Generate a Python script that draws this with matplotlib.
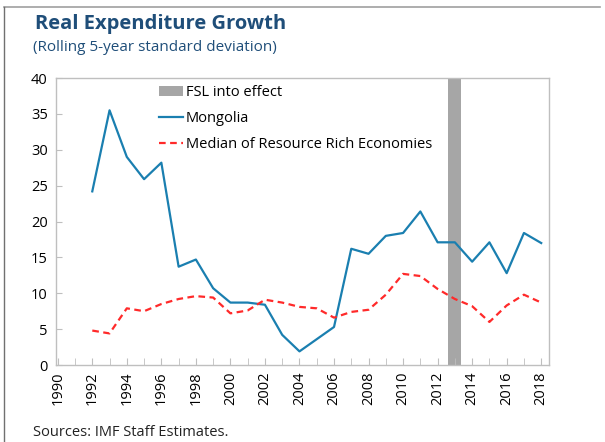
import matplotlib
matplotlib.use("Agg")
import matplotlib.pyplot as plt
from matplotlib.lines import Line2D
from matplotlib.patches import Patch

plt.rcParams['font.family'] = ['Open Sans', 'DejaVu Sans']

years = list(range(1992, 2019))
mongolia = [24.2, 35.5, 29.0, 25.9, 28.2, 13.7, 14.7, 10.7, 8.7, 8.7, 8.4, 4.2, 1.9, 3.6,
            5.3, 16.2, 15.5, 18.0, 18.4, 21.4, 17.1, 17.1, 14.4, 17.1, 12.8, 18.4, 17.0]
median_rre = [4.8, 4.4, 7.9, 7.5, 8.5, 9.2, 9.6, 9.4, 7.2, 7.6, 9.1, 8.7, 8.1, 7.9,
              6.6, 7.4, 7.7, 9.8, 12.7, 12.4, 10.6, 9.2, 8.2, 6.0, 8.3, 9.8, 8.7]
fsl_year = 2013
tick_years = list(range(1990, 2019))
label_years = list(range(1990, 2019, 2))

fig = plt.figure(figsize=(6.05, 4.42), dpi=100)
ax = fig.add_axes([0.0926, 0.1742, 0.8148, 0.6493])

blue = '#1a7fb0'
red = '#ff2a2a'

ax.axvspan(fsl_year - 0.38, fsl_year + 0.38, color='#a6a6a6', lw=0, zorder=1)
ax.plot(years, mongolia, color=blue, lw=1.6, zorder=3)
ax.plot(years, median_rre, color=red, lw=1.6, ls=(0, (3, 2)), zorder=3)

ax.set_xlim(1989.9, 2018.45)
ax.set_ylim(0, 40)
ax.set_yticks(range(0, 41, 5))
ax.set_xticks(tick_years, minor=True)
ax.set_xticks(label_years)
ax.set_xticklabels([str(y) for y in label_years], rotation=90)
ax.tick_params(axis='x', which='both', direction='in', length=5, color='#bfbfbf', labelsize=10.5, pad=5)
ax.tick_params(axis='y', direction='in', length=4, color='#bfbfbf', labelsize=10.5, pad=6)
for s in ax.spines.values():
    s.set_color('#bfbfbf')
    s.set_linewidth(1.0)

handles = [Patch(facecolor='#a6a6a6', edgecolor='none'),
           Line2D([0], [0], color=blue, lw=1.6),
           Line2D([0], [0], color=red, lw=1.6, ls=(0, (3, 2)))]
labels = ['FSL into effect', 'Mongolia', 'Median of Resource Rich Economies']
ax.legend(handles, labels, loc='upper left', bbox_to_anchor=(0.183, 1.022), frameon=False,
          fontsize=10.5, handlelength=1.65, handletextpad=0.15, labelspacing=0.75)

fig.text(0.058, 0.935, 'Real Expenditure Growth', fontsize=14.5, fontweight='bold', color='#1f4e79')
fig.text(0.055, 0.885, '(Rolling 5-year standard deviation)', fontsize=11, color='#1f4e79')
fig.text(0.055, 0.013, 'Sources: IMF Staff Estimates.', fontsize=10.5, color='#222222')

fig.add_artist(Line2D([0.007, 0.992], [0.984, 0.984], color='#a0a0a0', lw=1.2, transform=fig.transFigure))
fig.add_artist(Line2D([0.007, 0.007], [0.0, 0.984], color='#707070', lw=1.0, transform=fig.transFigure))

fig.savefig('out.png', dpi=100)
